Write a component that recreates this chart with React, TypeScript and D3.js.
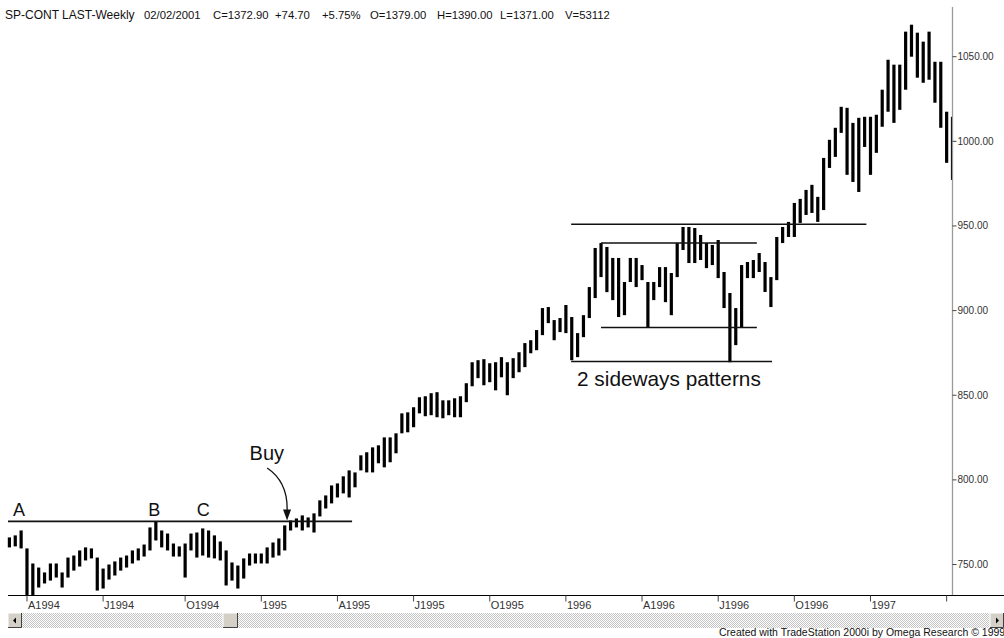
import React from "react";
import * as d3 from "d3";

// Weekly bar highs / lows
const highs = [
  766.0, 767.2, 770.1, 759.5, 750.6, 748.2, 745.3, 750.6, 750.6, 745.3,
  754.1, 755.3, 758.3, 760.1, 759.5, 754.1, 747.6, 750.0, 751.8, 754.1,
  755.3, 758.3, 759.5, 761.8, 771.9, 775.4, 770.1, 768.3, 762.4, 760.7,
  762.4, 768.3, 768.9, 771.3, 770.1, 767.2, 763.6, 758.3, 751.2, 749.4,
  753.6, 756.5, 756.5, 756.5, 760.1, 763.0, 765.4, 773.1, 776.0, 777.2,
  779.0, 777.8, 780.2, 787.9, 790.8, 796.7, 797.9, 802.1, 805.6, 804.4,
  814.5, 816.3, 819.2, 820.4, 825.1, 825.1, 827.5, 839.3, 839.9, 842.9,
  848.8, 849.4, 851.2, 851.8, 847.0, 847.0, 848.2, 849.4, 857.1, 869.5,
  870.7, 871.3, 868.9, 869.5, 872.5, 869.5, 871.9, 875.4, 880.8, 882.5,
  888.5, 901.5, 902.1, 894.4, 895.6, 903.3, 896.2, 886.7, 897.3, 913.9,
  937.0, 939.9, 937.6, 931.1, 931.1, 916.9, 931.1, 931.1, 926.9, 916.9,
  916.9, 925.7, 925.7, 922.2, 939.9, 949.4, 949.4, 948.8, 944.7, 939.9,
  938.8, 941.7, 922.8, 910.4, 901.5, 926.9, 928.7, 929.9, 934.0, 928.7,
  919.8, 943.5, 949.4, 952.4, 963.6, 966.0, 971.3, 974.3, 967.2, 990.2,
  1000.9, 1008.0, 1020.4, 1019.8, 1010.9, 1013.9, 1014.5, 1014.5, 1015.7, 1030.5,
  1048.2, 1045.3, 1045.3, 1064.8, 1068.9, 1064.2, 1058.9, 1064.8, 1047.0, 1047.0,
  1017.5, 1014.5,
];
const lows = [
  760.1, 760.7, 759.5, 732.0, 732.0, 736.4, 738.8, 740.5, 742.3, 736.4,
  742.3, 746.4, 748.8, 752.4, 753.6, 734.6, 735.8, 741.1, 743.5, 746.4,
  748.2, 750.6, 752.4, 754.7, 758.3, 764.2, 760.1, 758.3, 754.7, 754.7,
  742.3, 758.3, 754.1, 755.3, 754.1, 753.6, 752.4, 737.6, 740.5, 735.8,
  741.7, 749.4, 750.6, 750.6, 750.6, 754.1, 755.3, 758.3, 770.1, 771.9,
  770.1, 771.9, 768.9, 778.4, 783.1, 786.1, 789.6, 792.0, 789.6, 795.6,
  805.6, 804.4, 804.4, 809.8, 807.4, 810.4, 815.7, 827.5, 828.1, 831.1,
  839.3, 837.6, 838.2, 837.0, 836.4, 838.2, 837.0, 837.0, 845.9, 855.3,
  860.1, 855.9, 857.7, 852.9, 860.6, 850.0, 860.1, 863.6, 866.6, 874.8,
  876.6, 885.5, 892.6, 882.5, 887.3, 886.7, 870.7, 872.5, 884.3, 895.6,
  907.4, 919.8, 910.9, 906.2, 896.2, 897.3, 916.9, 913.9, 918.0, 890.2,
  906.2, 913.9, 905.0, 897.3, 919.8, 935.8, 928.1, 928.1, 929.9, 925.1,
  926.9, 919.2, 901.5, 869.5, 879.6, 890.2, 919.2, 919.2, 922.8, 911.0,
  902.1, 918.0, 939.9, 943.5, 943.5, 951.8, 956.5, 957.7, 952.4, 959.4,
  984.3, 990.8, 1005.0, 980.2, 976.0, 970.1, 996.7, 980.2, 993.2, 1008.6,
  1017.5, 1010.9, 1018.6, 1030.5, 1050.0, 1037.6, 1034.6, 1036.4, 1022.8, 1008.0,
  987.3, 977.2,
];

const tickBars = [3, 16, 30, 43, 56, 69, 82, 95, 108, 121, 134, 147, 160];
const tickLabels = ["A1994", "J1994", "O1994", "1995", "A1995", "J1995", "O1995", "1996", "A1996", "J1996", "O1996", "1997", ""];
const priceTicks = [750, 800, 850, 900, 950, 1000, 1050];

const headerParts = [
  "SP-CONT LAST-Weekly", "02/02/2001", "C=1372.90", "+74.70", "+5.75%",
  "O=1379.00", "H=1390.00", "L=1371.00", "V=53112",
];
const headerX = [5, 144, 213, 275, 322, 370, 437, 500, 565];

// annotation lines: [startBar, endBar, price]
const supportLine = [-0.24, 58.5, 775.5];
const boxLines = [
  [95.9, 146.3, 951],
  [101.0, 127.6, 940],
  [101.0, 127.6, 890],
  [95.9, 130.2, 870],
];
const letterLabels = ["A", "B", "C"];
const letterBars = [0.6, 23.7, 32.0];

export default function App() {
  const W = 1004, H = 638;
  const x = d3.scaleLinear().domain([0, 161]).range([9.4, 952.5]);
  const y = d3.scaleLinear().domain([750, 1050]).range([564.5, 56.7]);
  const axisY = 595.5;
  const axisX = 952.5;
  const font = "'Liberation Sans', Arial, sans-serif";

  const arrowStart = [x(44.0), y(807)];
  const arrowTip = [x(47.4), y(776)];

  return (
    <svg width={W} height={H} style={{ position: "absolute", left: 0, top: 0, background: "#fff" }} fontFamily={font}>
      <defs>
        <clipPath id="plot">
          <rect x={0} y={0} width={axisX} height={axisY} />
        </clipPath>
        <pattern id="dither" width={2} height={2} patternUnits="userSpaceOnUse">
          <rect width={2} height={2} fill="#ffffff" />
          <rect x={0} y={0} width={1} height={1} fill="#c4c4c4" />
          <rect x={1} y={1} width={1} height={1} fill="#c4c4c4" />
        </pattern>
      </defs>
      <rect width={W} height={H} fill="#fff" />

      {/* header */}
      {headerParts.map((t, i) => (
        <text key={i} x={headerX[i]} y={19} fontSize={i === 0 ? 12 : 11.3} fill="#111">{t}</text>
      ))}

      {/* bars */}
      <g clipPath="url(#plot)">
        {highs.map((h, i) => (
          <rect key={i} x={x(i) - 1.6} y={y(h)} width={3.2} height={Math.max(1, y(lows[i]) - y(h))} fill="#000" />
        ))}
      </g>

      {/* right axis */}
      <line x1={axisX} x2={axisX} y1={7} y2={axisY} stroke="#9a9a9a" strokeWidth={1.3} />
      {priceTicks.map((p) => (
        <g key={p}>
          <line x1={axisX} x2={axisX + 4} y1={y(p)} y2={y(p)} stroke="#444" />
          <text x={axisX + 5} y={y(p) + 3.5} fontSize={10} fill="#333">{p.toFixed(2)}</text>
        </g>
      ))}

      {/* bottom axis */}
      <line x1={8} x2={W} y1={axisY} y2={axisY} stroke="#000" strokeWidth={1.2} />
      {tickBars.map((b, i) => (
        <g key={i}>
          <line x1={x(b)} x2={x(b)} y1={axisY} y2={axisY + 6} stroke="#444" />
          <text x={x(b) + 1} y={609} fontSize={11} fill="#333">{tickLabels[i]}</text>
        </g>
      ))}

      {/* annotations */}
      <line x1={x(supportLine[0])} x2={x(supportLine[1])} y1={y(supportLine[2])} y2={y(supportLine[2])} stroke="#111" strokeWidth={1.6} />
      {letterLabels.map((l, i) => (
        <text key={l} x={x(letterBars[i])} y={y(supportLine[2]) - 5} fontSize={18} fill="#111">{l}</text>
      ))}
      {boxLines.map((b, i) => (
        <line key={i} x1={x(b[0])} x2={x(b[1])} y1={y(b[2])} y2={y(b[2])} stroke="#111" strokeWidth={1.5} />
      ))}
      <text x={x(96.9)} y={y(855.5)} fontSize={20.8} fill="#111">2 sideways patterns</text>
      <text x={x(41)} y={y(811.5)} fontSize={20} fill="#111">Buy</text>
      <path
        d={`M${arrowStart[0]},${arrowStart[1]} C${arrowStart[0] + 12},${arrowStart[1] + 8} ${arrowTip[0] + 1},${arrowStart[1] + 20} ${arrowTip[0]},${arrowTip[1] - 9}`}
        fill="none" stroke="#111" strokeWidth={1.3}
      />
      <path d={`M${arrowTip[0]},${arrowTip[1]} L${arrowTip[0] - 4},${arrowTip[1] - 11} L${arrowTip[0] + 4},${arrowTip[1] - 11} Z`} fill="#111" />

      {/* scrollbar */}
      <rect x={22} y={613} width={968} height={15} fill="url(#dither)" />
      {[8, 990].map((bx, i) => (
        <g key={i}>
          <rect x={bx} y={613} width={14} height={15} fill="#d4d0c8" />
          <path d={`M${bx},${628} V613 H${bx + 14}`} fill="none" stroke="#fff" />
          <path d={`M${bx},${627.5} H${bx + 13.5} V613`} fill="none" stroke="#404040" />
          {i === 0 ? (
            <path d={`M${bx + 5},620.5 L${bx + 8},617.5 L${bx + 8},623.5 Z`} fill="#000" />
          ) : (
            <path d={`M${bx + 9},620.5 L${bx + 6},617.5 L${bx + 6},623.5 Z`} fill="#000" />
          )}
        </g>
      ))}
      <rect x={223} y={613} width={15} height={15} fill="#d4d0c8" />
      <path d="M223,628 V613 H238" fill="none" stroke="#fff" />
      <path d="M223,627.5 H237.5 V613" fill="none" stroke="#404040" />

      <text x={719} y={636} fontSize={10.5} fill="#111">Created with TradeStation 2000i by Omega Research © 1999</text>
    </svg>
  );
}
